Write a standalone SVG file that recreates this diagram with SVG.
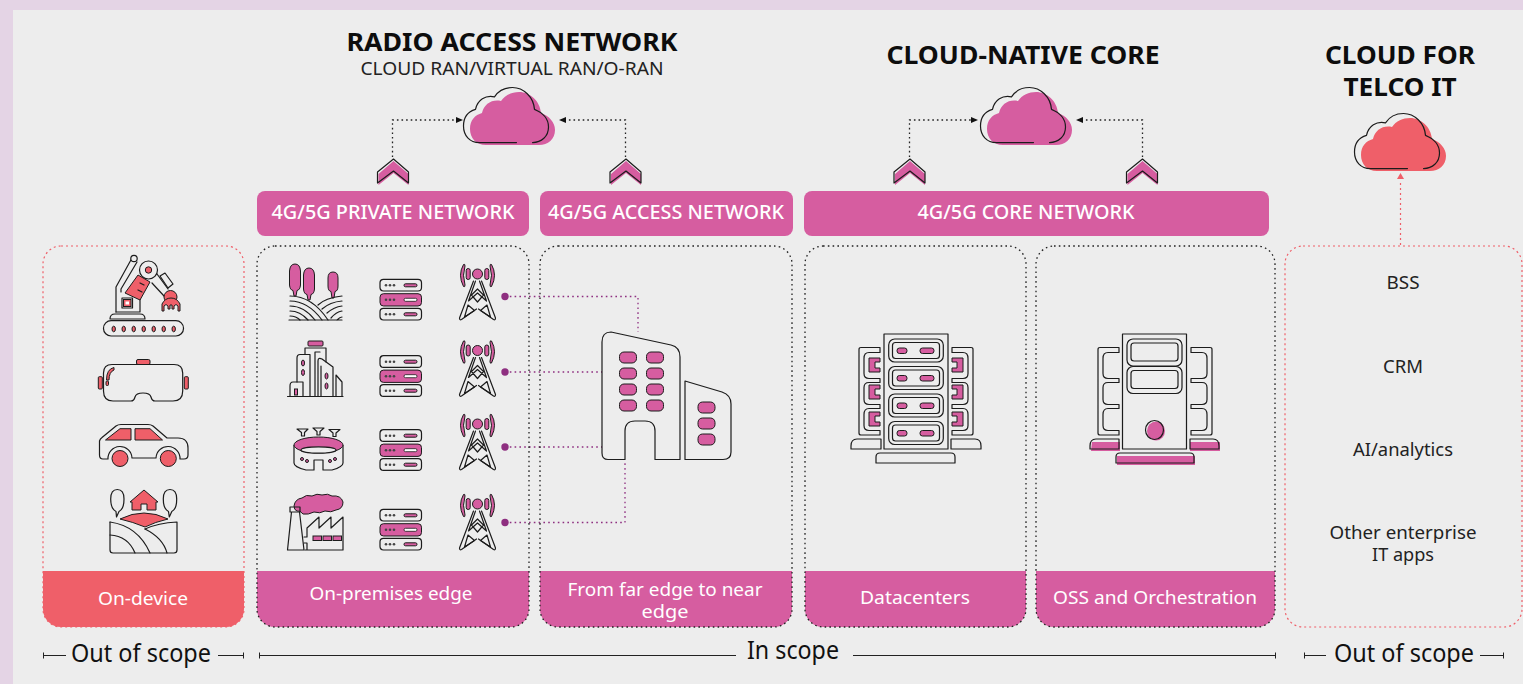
<svg xmlns="http://www.w3.org/2000/svg" xmlns:xlink="http://www.w3.org/1999/xlink" width="1523" height="684" viewBox="0 0 1523 684">
<style>
text{font-family:"Noto Sans","Open Sans","Liberation Sans",sans-serif;text-anchor:middle}
.o{fill:none;stroke:#1c1c1c;stroke-width:1.2;stroke-linejoin:round;stroke-linecap:round}
.w{fill:#ededed;stroke:#1c1c1c;stroke-width:1.2;stroke-linejoin:round}
.p{fill:#d65da0}.r{fill:#ef5f69}
.ps{fill:#d65da0;stroke:#1c1c1c;stroke-width:1}.rs{fill:#ef5f69;stroke:#1c1c1c;stroke-width:1}
.kd{fill:none;stroke:#222;stroke-width:1.3;stroke-dasharray:1.6 3.2}
.rd{fill:none;stroke:#ef5f69;stroke-width:1.2;stroke-dasharray:2 3}
.cd{fill:none;stroke:#222;stroke-width:1.3;stroke-dasharray:1.6 3}
.vd{fill:none;stroke:#8e2f80;stroke-width:1.3;stroke-dasharray:1.6 3.2}
.ban{fill:#fff;font-size:19px;font-weight:500}
.foot{fill:#fff;font-size:18px}
.h1{fill:#0d0d0d;font-size:25.5px;font-weight:700}
.sc{fill:#111;font-size:25px}
.it{fill:#222;font-size:18px}
.ln{stroke:#222;stroke-width:1;fill:none}
</style>
<defs>
<path id="cl" d="M16 53C6 53 0 46 0 37C0 28 5 23 12 21C14 12 22 7 31 9C35 3 42 0 49 0C60 0 70 9 71 21C79 24 85 30 85 38C85 47 78 53 69 53Z"/>
<path id="clo" d="M53 53H16C6 53 0 46 0 37C0 28 5 23 12 21C14 12 22 7 31 9C35 3 42 0 49 0C60 0 70 9 71 21C79 24 85 30 85 38C85 47 78 53 69 53"/>
<g id="chev">
<path class="p" d="M1 2L16 -11L31 2V13L16 1L1 13Z" transform="translate(0 2)"/>
<path class="o" d="M0 2L16 -11L31 2V13L16 1L0 13Z"/>
</g>
<g id="srv">
<rect class="w" x="0" y="0" width="41.5" height="11.7" rx="3.5"/>
<rect class="ps" x="0" y="14.4" width="41.5" height="12.3" rx="3.5"/>
<rect class="w" x="0" y="29" width="41.5" height="11.7" rx="3.5"/>
<g fill="#444">
<circle cx="6" cy="6" r="1.3"/><circle cx="10" cy="6" r="1.3"/><circle cx="14" cy="6" r="1.3"/>
<circle cx="6" cy="20.5" r="1.3"/><circle cx="10" cy="20.5" r="1.3"/><circle cx="14" cy="20.5" r="1.3"/>
<circle cx="6" cy="35" r="1.3"/><circle cx="10" cy="35" r="1.3"/><circle cx="14" cy="35" r="1.3"/>
</g>
<rect class="ps" x="24" y="4.5" width="13" height="3" rx="1.5"/>
<rect x="24" y="19" width="13" height="3" rx="1.5" fill="#fff" stroke="#1c1c1c" stroke-width=".8"/>
<rect class="ps" x="24" y="33.5" width="13" height="3" rx="1.5"/>
</g>
<g id="tw">
<path class="ps" d="M-14 0.5Q-20 11 -14 22.5Q-12.5 23.5 -12.5 21Q-15.5 11 -12.5 2Q-12.5 -.5 -14 .5Z"/>
<rect class="ps" x="-11.3" y="4.5" width="4" height="11" rx="2"/>
<path class="ps" d="M14 0.5Q20 11 14 22.5Q12.5 23.5 12.5 21Q15.5 11 12.5 2Q12.5 -.5 14 .5Z"/>
<rect class="ps" x="7.3" y="4.5" width="4" height="11" rx="2"/>
<circle class="ps" cx="0" cy="10" r="5"/>
<path class="o" d="M-4 17L-18 54Q-18 56.5 -16 55.5L-1 45M4 17L18 54Q18 56.5 16 55.5L1 45"/>
<path class="o" d="M-2 17L-9 37L0 29L9 37L2 17M-6 31L0 25L6 31L0 38ZM-9.5 41L-3 46.5L-13 53ZM9.5 41L3 46.5L13 53Z"/>
</g>
<path id="side" class="o" d="M22 0H3Q1 0 1 2V85.5Q1 87.5 3 87.500H22V83H11Q6 83 6 78V67Q6 61 11 61H22V57H11Q6 57 6 52V40Q6 35 11 35H22V31H11Q6 31 6 26V11Q6 5 11 5H22Z"/>
</defs>

<rect width="1523" height="684" fill="#e4d4e5"/>
<rect x="13" y="10" width="1510" height="674" fill="#ededed"/>

<g id="connectors">
<path class="cd" d="M392.500 157V120H456"/><path d="M463 120L456 117V123Z" fill="#111"/>
<path class="cd" d="M625.500 157V120H566"/><path d="M559 120L566 117V123Z" fill="#111"/>
<path class="cd" d="M909.500 157V120H971"/><path d="M978 120L971 117V123Z" fill="#111"/>
<path class="cd" d="M1142.500 157V120H1083"/><path d="M1076 120L1083 117V123Z" fill="#111"/>
<path class="rd" d="M1400.500 245V181"/><path d="M1400.500 173L1397 179H1404Z" fill="#ef5f69"/>
<path class="vd" d="M505 296.500H638V332"/>
<path class="vd" d="M505 372H602"/>
<path class="vd" d="M505 447H602"/>
<path class="vd" d="M505 522.500H625V462"/>
<g fill="#8e2f80"><circle cx="505" cy="296.500" r="3.700"/><circle cx="505" cy="372" r="3.700"/><circle cx="505" cy="447" r="3.700"/><circle cx="505" cy="522.500" r="3.700"/></g>
</g>

<g id="title-ran">
<text class="h1" x="512" y="51" textLength="331" lengthAdjust="spacingAndGlyphs">RADIO ACCESS NETWORK</text>
<text x="512" y="75" font-size="18.500" fill="#222" textLength="303" lengthAdjust="spacingAndGlyphs">CLOUD RAN/VIRTUAL RAN/O-RAN</text>
</g>
<g id="title-core"><text class="h1" x="1023" y="64" textLength="273" lengthAdjust="spacingAndGlyphs">CLOUD-NATIVE CORE</text></g>
<g id="title-it"><text class="h1" x="1400" y="64" textLength="150" lengthAdjust="spacingAndGlyphs">CLOUD FOR</text><text class="h1" x="1400" y="96" textLength="113" lengthAdjust="spacingAndGlyphs">TELCO IT</text></g>

<g id="cloud-ran"><use href="#cl" x="470" y="92" class="p"/><g transform="translate(463.500 87.500) scale(1 1.040)"><use href="#clo" class="o"/></g></g>
<g id="cloud-core"><use href="#cl" x="987" y="92" class="p"/><g transform="translate(980.500 87.500) scale(1 1.040)"><use href="#clo" class="o"/></g></g>
<g id="cloud-it"><use href="#cl" x="1361" y="118" class="r"/><g transform="translate(1354.500 113.500) scale(1 1.040)"><use href="#clo" class="o"/></g></g>

<g id="chev-1"><use href="#chev" x="377.500" y="170"/></g>
<g id="chev-2"><use href="#chev" x="610" y="170"/></g>
<g id="chev-3"><use href="#chev" x="894" y="170"/></g>
<g id="chev-4"><use href="#chev" x="1126.500" y="170"/></g>

<g id="banner-private"><rect x="257" y="191" width="272" height="45" rx="8" class="p"/><text class="ban" x="393" y="219" textLength="243" lengthAdjust="spacingAndGlyphs">4G/5G PRIVATE NETWORK</text></g>
<g id="banner-access"><rect x="540" y="191" width="253" height="45" rx="8" class="p"/><text class="ban" x="666" y="219" textLength="236" lengthAdjust="spacingAndGlyphs">4G/5G ACCESS NETWORK</text></g>
<g id="banner-core"><rect x="804" y="191" width="465" height="45" rx="8" class="p"/><text class="ban" x="1026" y="219" textLength="217" lengthAdjust="spacingAndGlyphs">4G/5G CORE NETWORK</text></g>

<g id="box-device">
<path class="r" d="M43 571H244V609A18 18 0 0 1 226 627H61A18 18 0 0 1 43 609Z"/>
<rect class="rd" x="43" y="246" width="201" height="381" rx="18"/>
<text class="foot" x="143" y="605" textLength="90" lengthAdjust="spacingAndGlyphs">On-device</text>
</g>
<g id="box-premises">
<path class="p" d="M257 571H529V609A18 18 0 0 1 511 627H275A18 18 0 0 1 257 609Z"/>
<rect class="kd" x="257" y="246" width="272" height="381" rx="18"/>
<text class="foot" x="391" y="600" textLength="163" lengthAdjust="spacingAndGlyphs">On-premises edge</text>
</g>
<g id="box-far">
<path class="p" d="M540 571H792V609A18 18 0 0 1 774 627H558A18 18 0 0 1 540 609Z"/>
<rect class="kd" x="540" y="246" width="252" height="381" rx="18"/>
<text class="foot" x="665" y="596" textLength="195" lengthAdjust="spacingAndGlyphs">From far edge to near</text>
<text class="foot" x="665" y="617.500" textLength="47" lengthAdjust="spacingAndGlyphs">edge</text>
</g>
<g id="box-dc">
<path class="p" d="M805 571H1026V609A18 18 0 0 1 1008 627H823A18 18 0 0 1 805 609Z"/>
<rect class="kd" x="805" y="246" width="221" height="381" rx="18"/>
<text class="foot" x="915" y="604" textLength="110" lengthAdjust="spacingAndGlyphs">Datacenters</text>
</g>
<g id="box-oss">
<path class="p" d="M1036 571H1275V609A18 18 0 0 1 1257 627H1054A18 18 0 0 1 1036 609Z"/>
<rect class="kd" x="1036" y="246" width="239" height="381" rx="18"/>
<text class="foot" x="1155" y="604" textLength="204" lengthAdjust="spacingAndGlyphs">OSS and Orchestration</text>
</g>
<g id="box-it">
<rect class="rd" x="1285" y="246" width="237" height="381" rx="18"/>
<text class="it" x="1403" y="289" textLength="33" lengthAdjust="spacingAndGlyphs">BSS</text>
<text class="it" x="1403" y="373" textLength="40" lengthAdjust="spacingAndGlyphs">CRM</text>
<text class="it" x="1403" y="456" textLength="100" lengthAdjust="spacingAndGlyphs">AI/analytics</text>
<text class="it" x="1403" y="539" textLength="147" lengthAdjust="spacingAndGlyphs">Other enterprise</text>
<text class="it" x="1403" y="561" textLength="62" lengthAdjust="spacingAndGlyphs">IT apps</text>
</g>

<g id="icon-robot">
<rect class="w" x="103.500" y="320.700" width="80" height="15.300" rx="7.600"/>
<ellipse cx="113.700" cy="329" rx="1.700" ry="2.800" class="rs"/><ellipse cx="123.700" cy="329" rx="1.700" ry="2.800" class="rs"/><ellipse cx="133.700" cy="329" rx="1.700" ry="2.800" class="rs"/><ellipse cx="143.700" cy="329" rx="1.700" ry="2.800" class="rs"/><ellipse cx="153.700" cy="329" rx="1.700" ry="2.800" class="rs"/><ellipse cx="163.700" cy="329" rx="1.700" ry="2.800" class="rs"/><ellipse cx="173.700" cy="329" rx="1.700" ry="2.800" class="rs"/>
<path class="o" d="M110 319Q110 314 115 314H140Q145 314 145 319Z"/>
<path class="o" d="M116 312H140V299L134 296"/>
<path class="o" d="M116 312V287L132 258M121 292V289L137 262"/>
<circle class="w" cx="134" cy="258.500" r="3.200"/>
<circle class="w" cx="148.500" cy="270" r="9"/>
<circle class="rs" cx="148.500" cy="270" r="3.200"/>
<path class="rs" d="M125 293L138 275L150 282L140 300Z"/>
<path class="o" d="M140 283L144 285M138 290L142 292"/>
<rect class="w" x="122" y="298" width="10.500" height="10"/><rect class="rs" x="123.500" y="299.500" width="7.500" height="7"/><rect x="125.500" y="301.500" width="3.500" height="3" fill="#fff"/>
<path class="o" d="M152 283L164 296M157 274L168 289"/>
<path class="w" d="M160 276L165 273L173 284L168 288Z"/>
<circle class="rs" cx="170.500" cy="297" r="6.500"/>
<path class="rs" d="M162 311V304Q165 298 171 298Q177 298 180 304V311H178V306Q176 303 174 306V309H172V305H170V309H168V306Q166 303 164 306V311Z"/>
</g>
<g id="icon-vr">
<rect class="rs" x="136.500" y="359.500" width="13.500" height="5" rx="1.500"/>
<rect class="rs" x="98.300" y="376.700" width="4" height="12.300" rx="1"/>
<rect class="rs" x="184.300" y="376.700" width="4" height="12.300" rx="1"/>
<path class="w" d="M112 364.500H174Q182.700 364.500 182.700 373V391Q182.700 401 173 401H155Q152 401 151 397Q150 393 143 393Q136 393 135 397Q134 401 131 401H113Q103.500 401 103.500 391V373Q103.500 364.500 112 364.500Z"/>
<path class="rs" d="M106.500 380Q106.500 369 114 367.500V370Q109 372 109 380Z"/>
<rect class="rs" x="106" y="381" width="2.500" height="4.500" rx="1"/>
</g>
<g id="icon-car">
<path class="o" d="M99.500 455V441Q100 439 102 437.500L116 426Q118 424.500 121 424.500H148Q151 424.500 153 426L167 438H178Q188 438 188 448V455Q188 459 184 459H180A12 12 0 0 0 156 458H132A12 12 0 0 0 108 459H103Q99.500 459 99.500 455Z"/>
<path class="rs" d="M105.500 440L120 428.700H131V440Z"/><path class="rs" d="M135 428.700H150L162.500 440H135Z"/>
<circle class="rs" cx="120" cy="458.500" r="8"/><circle class="rs" cx="168.300" cy="458.500" r="8"/>
</g>
<g id="icon-house">
<path class="o" d="M117.300 489.500C112 489.500 110.700 494 110.700 499C110.700 505 113 510 116 511.500L116.500 517L119 511.500C122 510 124 505 124 499C124 494 122 489.500 117.300 489.500Z"/>
<path class="o" d="M170 489.500C165 489.500 163.300 494 163.300 499C163.300 505 165.500 510 168.500 511.500L169.300 517L171.800 511.500C175 510 176.700 505 176.700 499C176.700 494 175 489.500 170 489.500Z"/>
<path class="rs" d="M130 502L144 490L158 502H156V510H147V504H141V510H132V502Z"/>
<path class="rs" d="M120 519Q144 507 168 519Q155 522 145 527Q133 522 120 519Z"/>
<path class="o" d="M110 522V550Q110 553 113 553H174Q177 553 177 550V522Q158 523 145 529"/>
<path class="o" d="M110 522Q138 526 150 553M145 529Q163 538 167 553M110 535Q128 536 135 553"/>
</g>

<g id="icon-farm">
<path class="ps" d="M295 264Q290 264 289.500 271V285Q290 290 293 290.500L294 296H296L297 290.500Q300 290 300.500 285V271Q300 264 295 264Z"/>
<path class="ps" d="M309 268Q304 268 303.500 275V289Q304 294 307 294.500L308 300H310L311 294.500Q314 294 314.500 289V275Q314 268 309 268Z"/>
<path class="ps" d="M333 272Q328 272 328 278V286Q328 291 331 291.500L332 298H334L335 291.500Q338 291 338 286V278Q338 272 333 272Z"/>
<path class="o" d="M290 296Q312 296 328 320M290 301Q308 301 322 320M290 306Q304 306 315 320M290 311Q300 311 308 320M290 316Q296 316 300 320"/>
<path class="o" d="M342 296Q325 298 318 305M342 301Q330 302 322 309M342 306Q334 307 327 313M342 311Q336 312 331 318M342 317Q340 317 337 320M289 320H342"/>
</g>
<g id="icon-city">
<rect class="ps" x="308" y="341" width="15" height="5" rx="1"/>
<path class="o" d="M287.500 396.500H343M297 382V358Q297 354.500 300 354.500H310V396M305 354V348H326V362"/>
<path class="o" d="M315 396V352H320M318 396V361Q318 357 322 359L333 367V396M321 396V366M336 396V375L342 382V396"/>
<path class="o" d="M290 396V386Q290 382 293 382H303V396"/>
<ellipse class="ps" cx="303" cy="363" rx="1.500" ry="3"/><ellipse class="ps" cx="303" cy="372.500" rx="1.500" ry="3"/><ellipse class="ps" cx="326.500" cy="376" rx="1.500" ry="3"/><ellipse class="ps" cx="326.500" cy="386" rx="1.500" ry="3"/><rect class="ps" x="294.500" y="389" width="3" height="6"/>
</g>
<g id="icon-stadium">
<path class="w" d="M297 429H308L304.500 432.500V436H301.500V432.500ZM313 428H324L320 431.500V435H317V431.500ZM329 429.500H340L336 433V436.500H333V433Z"/>
<path class="w" d="M294 445V463Q294 467 306 470H314V460H323V470H332Q343 467 343 463V445"/>
<ellipse class="ps" cx="318.500" cy="445" rx="24.500" ry="8"/>
<ellipse class="w" cx="318.500" cy="450" rx="17.500" ry="3.200"/>
<circle class="ps" cx="302" cy="459" r="1.500"/><circle class="ps" cx="307" cy="461" r="1.500"/><circle class="ps" cx="330" cy="461" r="1.500"/><circle class="ps" cx="335" cy="459" r="1.500"/>
</g>
<g id="icon-factory">
<path class="ps" d="M294 506Q295 499 302 498Q306 494 312 496Q317 493 322 495Q328 493 332 496Q341 495 343 502Q343 509 336 510Q331 513 325 511Q320 514 314 512Q308 515 303 514Q300 510 297 511Q294 510 294 506Z"/>
<path class="o" d="M290 507H300V512H290ZM291.500 512L287.500 550H304L299.500 512"/>
<path class="o" d="M305 550H343V517L331 528V517L319 528V517L307 528V537H304M307 543H304M307 543V550"/>
<rect class="ps" x="313" y="536" width="8.500" height="4.500"/><rect class="ps" x="323" y="536" width="8.500" height="4.500"/><rect class="ps" x="333" y="536" width="8.500" height="4.500"/>
</g>

<g id="srv-1"><use href="#srv" x="380" y="279.300"/></g>
<g id="srv-2"><use href="#srv" x="380" y="355.700"/></g>
<g id="srv-3"><use href="#srv" x="380" y="429.700"/></g>
<g id="srv-4"><use href="#srv" x="380" y="509.300"/></g>
<g id="tower-1"><use href="#tw" x="477.500" y="264"/></g>
<g id="tower-2"><use href="#tw" x="477.500" y="340.500"/></g>
<g id="tower-3"><use href="#tw" x="477.500" y="414"/></g>
<g id="tower-4"><use href="#tw" x="477.500" y="494"/></g>

<g id="icon-building">
<path class="w" d="M602 342Q602 332 611 332L671 345Q680 347 680 357V459.500H655V431Q655 421 645 421H635Q625 421 625 431V459.500H608Q602 459.500 602 453Z"/>
<path class="w" d="M685 381L722 392Q731 395 731 404V452Q731 459.500 723 459.500H685Z"/>
<rect class="ps" x="619.500" y="352" width="17" height="11" rx="4.500"/><rect class="ps" x="646.500" y="352" width="17" height="11" rx="4.500"/>
<rect class="ps" x="619.500" y="368" width="17" height="11" rx="4.500"/><rect class="ps" x="646.500" y="368" width="17" height="11" rx="4.500"/>
<rect class="ps" x="619.500" y="384" width="17" height="11" rx="4.500"/><rect class="ps" x="646.500" y="384" width="17" height="11" rx="4.500"/>
<rect class="ps" x="619.500" y="400" width="17" height="11" rx="4.500"/><rect class="ps" x="646.500" y="400" width="17" height="11" rx="4.500"/>
<rect class="ps" x="698" y="402" width="17" height="11" rx="4.500"/><rect class="ps" x="698" y="418" width="17" height="11" rx="4.500"/><rect class="ps" x="698" y="434" width="17" height="11" rx="4.500"/>
</g>

<g id="icon-datacenter">
<use href="#side" x="858" y="347.500"/>
<use href="#side" transform="translate(974 347.500) scale(-1 1)"/>
<path class="ps" d="M869 358H880V362H875V368H880V372H869Z"/><path class="ps" d="M869 385H880V389H875V395H880V399H869Z"/><path class="ps" d="M869 412H880V416H875V422H880V426H869Z"/>
<path class="ps" d="M963 358H952V362H957V368H952V372H963Z"/><path class="ps" d="M963 385H952V389H957V395H952V399H963Z"/><path class="ps" d="M963 412H952V416H957V422H952V426H963Z"/>
<rect class="w" x="884" y="334" width="64" height="115"/>
<g id="dc-rows">
<rect class="o" x="888.700" y="339" width="54.600" height="23" rx="6"/><rect class="o" x="892.500" y="342.500" width="47" height="16" rx="3"/><rect class="ps" x="897" y="348" width="10" height="5.500" rx="2.500"/><rect class="ps" x="920" y="348" width="14" height="5.500" rx="2.500"/>
<rect class="o" x="888.700" y="366.500" width="54.600" height="23" rx="6"/><rect class="o" x="892.500" y="370" width="47" height="16" rx="3"/><rect class="ps" x="897" y="375.500" width="10" height="5.500" rx="2.500"/><rect class="ps" x="920" y="375.500" width="14" height="5.500" rx="2.500"/>
<rect class="o" x="888.700" y="394" width="54.600" height="23" rx="6"/><rect class="o" x="892.500" y="397.500" width="47" height="16" rx="3"/><rect class="ps" x="897" y="403" width="10" height="5.500" rx="2.500"/><rect class="ps" x="920" y="403" width="14" height="5.500" rx="2.500"/>
<rect class="o" x="888.700" y="421.500" width="54.600" height="23" rx="6"/><rect class="o" x="892.500" y="425" width="47" height="16" rx="3"/><rect class="ps" x="897" y="430.500" width="10" height="5.500" rx="2.500"/><rect class="ps" x="920" y="430.500" width="14" height="5.500" rx="2.500"/>
</g>
<path class="o" d="M881 439H857Q851 439 851 446V449H881ZM951 439H975Q981 439 981 446V449H951Z"/>
<path class="o" d="M880 453H951Q955 453 955 457V463H876V457Q876 453 880 453Z"/>
</g>

<g id="icon-oss">
<use href="#side" x="1097" y="347.500"/>
<use href="#side" transform="translate(1213 347.500) scale(-1 1)"/>
<rect class="w" x="1122.500" y="334" width="64" height="115"/>
<rect class="o" x="1127" y="339" width="55" height="27" rx="6"/><rect class="o" x="1131" y="343" width="47" height="18" rx="3"/>
<rect class="o" x="1127" y="366.500" width="55" height="27" rx="6"/><rect class="o" x="1131" y="370.500" width="47" height="18" rx="3"/>
<ellipse class="p" cx="1156" cy="431" rx="9" ry="9.500"/><ellipse class="o" cx="1154.500" cy="430" rx="9" ry="9.500"/>
<path class="p" d="M1092 442H1120V451H1091Z"/><path class="p" d="M1190 442H1220V451H1190Z"/><path class="p" d="M1117 456H1195V465H1117Z"/>
<path class="o" d="M1119 439H1096Q1090 439 1090 446V449H1119ZM1190 439H1213Q1219 439 1219 446V449H1190Z"/>
<path class="o" d="M1120 453H1190Q1194 453 1194 457V463H1116V457Q1116 453 1120 453Z"/>
</g>

<g id="scope-left">
<text class="sc" x="141" y="662" textLength="140" lengthAdjust="spacingAndGlyphs">Out of scope</text>
<path class="ln" d="M43.500 652.500V658.500M43 655.500H66M218 655.500H243M243.500 652.500V658.500"/>
</g>
<g id="scope-mid">
<text class="sc" x="793" y="659" textLength="92" lengthAdjust="spacingAndGlyphs">In scope</text>
<path class="ln" d="M259.500 652.500V658.500M260 655.500H736M853 655.500H1275M1275.500 652.500V658.500"/>
</g>
<g id="scope-right">
<text class="sc" x="1404" y="662" textLength="140" lengthAdjust="spacingAndGlyphs">Out of scope</text>
<path class="ln" d="M1304.500 652.500V658.500M1304 655.500H1326M1480 655.500H1503M1503.500 652.500V658.500"/>
</g>
</svg>
